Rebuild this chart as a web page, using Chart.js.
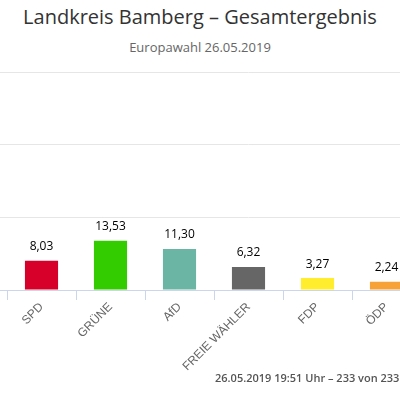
<!DOCTYPE html>
<html>
<head>
<meta charset="utf-8">
<script src="https://cdn.jsdelivr.net/npm/chart.js@4/dist/chart.umd.min.js"></script>
<style>
  body { margin: 0; width: 400px; height: 400px; overflow: hidden; background: #fff; font-family: "Open Sans", sans-serif; position: relative; }
  #title { position: absolute; top: 3px; width: 400px; text-align: center; font-size: 20px; color: #333; }
  #sub { position: absolute; top: 38px; width: 400px; text-align: center; font-size: 13px; color: #666; }
  #wrap { position: absolute; left: -62px; top: 60px; width: 621px; height: 320px; }
  #foot { position: absolute; left: 215px; top: 370px; font-size: 11px; color: #555; white-space: nowrap; font-weight: 600; }
</style>
</head>
<body>
<div id="title">Landkreis Bamberg – Gesamtergebnis</div>
<div id="sub">Europawahl 26.05.2019</div>
<div id="wrap"><canvas id="chart"></canvas></div>
<div id="foot">26.05.2019 19:51 Uhr – 233 von 233 Stimmbezirken ausgezählt</div>
<script>
const parties = ["CSU", "SPD", "GRÜNE", "AfD", "FREIE WÄHLER", "FDP", "ÖDP", "DIE LINKE", "Sonstige"];
const results = [44.10, 8.03, 13.53, 11.30, 6.32, 3.27, 2.24, 1.90, 9.31];
const partyColors = ["#000000", "#d7002a", "#33cc00", "#6bb5a5", "#666666", "#ffed2e", "#f7a239", "#be3075", "#aaaaaa"];

// value labels above bars
const valueLabels = {
    id: "valueLabels",
    afterDatasetsDraw(chart) {
        const ctx = chart.ctx;
        const meta = chart.getDatasetMeta(0);
        ctx.save();
        ctx.font = "12px 'Open Sans', sans-serif";
        ctx.fillStyle = "#000";
        ctx.textAlign = "center";
        ctx.textBaseline = "bottom";
        meta.data.forEach((bar, i) => {
            ctx.fillText(results[i].toFixed(2).replace(".", ","), bar.x, bar.y - 8);
        });
        ctx.restore();
    }
};

new Chart(document.getElementById("chart"), {
    type: "bar",
    data: {
        labels: parties,
        datasets: [{
            data: results,
            backgroundColor: partyColors,
            barPercentage: 0.48,
            categoryPercentage: 1
        }]
    },
    options: {
        responsive: true,
        maintainAspectRatio: false,
        animation: false,
        layout: { padding: { top: 12, left: 0, right: 0 } },
        plugins: { legend: { display: false }, tooltip: { enabled: false } },
        scales: {
            x: {
                offset: true,
                grid: { offset: true, drawOnChartArea: false, tickLength: 10, color: "#ccd6eb" },
                border: { color: "#ccd6eb" },
                ticks: { color: "#666", font: { size: 12 }, minRotation: 45, maxRotation: 45, autoSkip: false, padding: 0 },
                afterFit(axis) { axis.height = 90; }
            },
            y: {
                display: true,
                min: 0,
                max: 60,
                ticks: { stepSize: 20, display: false },
                grid: { color: "#e6e6e6", drawTicks: false },
                border: { display: false },
                afterFit(axis) { axis.width = 0; }
            }
        }
    },
    plugins: [valueLabels]
});
</script>
</body>
</html>
